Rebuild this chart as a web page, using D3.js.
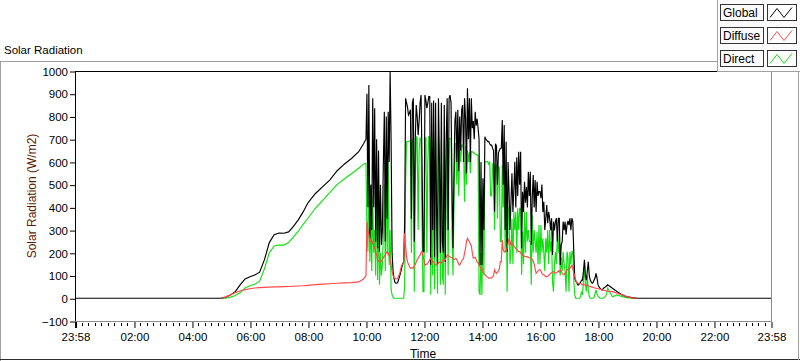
<!DOCTYPE html>
<html><head><meta charset="utf-8">
<script src="https://cdn.jsdelivr.net/npm/d3@7"></script>
<style>
html,body{margin:0;padding:0;background:#fff;}
svg{display:block;font-family:"Liberation Sans",Arial,sans-serif;}
</style></head>
<body><svg id="c" width="800" height="361"></svg>
<script>
// ---- data (time in minutes since midnight; -2 = 23:58 previous day) ----
const xTickMinutes = [-2,120,240,360,480,600,720,840,960,1080,1200,1320,1438];
const xTickLabels = ["23:58","02:00","04:00","06:00","08:00","10:00","12:00","14:00","16:00","18:00","20:00","22:00","23:58"];
const yTicks = [1000,900,800,700,600,500,400,300,200,100,0,-100];
const seriesNames = ["Global","Diffuse","Direct"];
const seriesColors = ["#000000","#ff4848","#12e012"];

const preTimes = [-2,300,310,320,330,340,350,360,370,380,390,400,410,420,430,440,450,460,470,480,495,510,525,540,555,570,585,595];
const globalPre  = [0,0,5,15,30,60,85,95,102,115,170,245,280,287,286,292,316,345,380,420,460,490,520,560,590,615,645,680];
const diffusePre = [null,0,5,15,25,33,38,42,45,47,48,49,50,50,51,52,53,54,55,57,60,62,64,66,68,69,72,85];
const directPre  = [null,0,0,5,12,25,45,55,62,75,130,200,230,234,234,245,270,295,325,352,395,430,465,500,525,548,572,590];

// 2-minute samples from 10:00 to 18:20
const denseStart = 600, denseStep = 2;
const globalDense = [
700,900,400,938,250,500,300,880,400,836,
250,700,220,650,205,500,235,300,600,821,
250,800,350,821,600,997,700,205,120,88,
70,66,66,72,85,100,115,135,150,161,
322,880,860,840,806,815,830,350,860,880,
249,700,850,800,718,780,860,894,600,205,
205,894,870,836,860,887,887,146,860,300,
870,180,860,400,150,880,600,200,860,250,
200,850,160,700,880,300,880,894,860,500,
220,542,780,821,600,830,560,800,650,830,
850,600,880,792,550,924,700,880,600,880,
748,780,700,821,760,790,748,700,146,600,
146,528,300,711,700,695,689,690,680,674,
674,660,650,381,680,670,500,640,650,660,
660,784,500,762,300,689,205,600,469,300,
425,550,380,480,601,400,620,450,645,500,
645,220,469,380,513,420,490,400,557,450,
557,235,440,542,400,520,380,513,450,470,
470,440,500,380,425,300,352,410,330,380,
352,300,352,190,337,300,337,352,250,352,
352,146,235,250,337,300,337,280,322,340,
322,352,300,352,337,200,88,75,70,59,
59,66,70,80,80,120,169,100,80,120,
161,100,80,72,66,70,80,90,110,90,
60,51,45,40,37,40,45,48,51,55,59];
const directDense = [
594,300,205,600,161,350,120,450,200,300,
100,616,80,400,60,200,100,150,280,500,
120,645,200,600,146,300,40,15,5,0,
0,0,0,0,0,0,0,0,0,0,
50,513,689,690,690,692,694,200,696,696,
29,500,711,705,300,650,705,705,308,29,
29,706,706,200,600,711,711,15,700,100,
711,40,705,300,20,710,500,60,700,100,
60,700,15,600,704,100,704,704,700,300,
100,400,682,680,500,676,450,674,600,674,
674,660,425,670,500,650,600,645,550,645,
645,640,640,635,632,630,630,29,15,200,
15,400,100,601,601,601,601,590,601,450,
450,590,585,300,586,586,350,580,575,250,
250,586,400,542,200,480,29,400,366,150,
200,350,150,381,300,381,200,396,300,396,
396,103,293,150,381,200,381,250,300,250,
250,59,366,200,300,250,200,293,150,322,
150,322,200,264,200,120,264,200,300,150,
300,205,250,73,29,150,205,150,278,200,
278,100,180,120,205,150,120,29,205,180,
29,205,150,205,205,80,15,0,0,0,
0,0,7,30,15,80,139,60,30,100,
30,10,0,0,0,0,5,20,37,20,
10,5,0,0,0,0,2,5,10,20,44];
const diffuseDense = [
100,337,300,280,249,260,240,249,230,220,
205,190,170,165,161,160,165,170,180,185,
190,200,205,190,200,170,146,120,100,90,
88,85,85,90,100,110,130,146,150,160,
286,230,183,160,150,140,132,135,132,135,
140,150,160,170,176,185,190,200,205,190,
170,146,148,150,155,161,170,176,168,160,
160,155,146,148,150,155,160,158,155,165,
170,165,170,180,190,190,185,182,180,178,
176,170,172,176,170,160,150,146,155,165,
170,176,200,220,250,264,255,250,240,230,
200,176,178,180,170,160,155,146,140,130,
130,117,110,105,100,95,92,88,88,90,
90,95,100,125,115,110,115,120,130,161,
161,257,212,205,205,210,220,240,264,250,
235,240,235,230,225,220,215,210,205,205,
200,195,190,188,185,183,183,182,180,180,
176,176,170,165,150,130,110,115,120,125,
125,120,110,105,103,100,95,95,97,100,
105,110,112,115,117,115,110,112,115,120,
115,125,120,110,103,105,110,115,125,128,
130,132,140,146,130,110,95,80,70,66,
66,66,64,62,60,59,59,59,58,57,
55,53,51,50,49,48,46,45,44,43,
42,41,40,39,37,36,35,34,33,32,31];

const postTimes = [1110,1120,1130,1140,1150,1160,1438];
const globalPost  = [44,29,15,7,3,0,0];
const diffusePost = [29,22,15,7,2,0,null];
const directPost  = [7,15,7,3,0,0,null];

// ---- build ----
const denseTimes = globalDense.map((_, i) => denseStart + i * denseStep);
const allTimes = preTimes.concat(denseTimes, postTimes);
function build(pre, dense, post){
  const vals = pre.concat(dense, post);
  return allTimes.map((t, i) => ({t, v: vals[i]}));
}
const series = [
  build(globalPre, globalDense, globalPost),
  build(diffusePre, diffuseDense, diffusePost),
  build(directPre, directDense, directPost)
];
const drawOrder = [2, 0, 1];

const svg = d3.select("#c");
const L = 75, R = 771, T = 71, B = 321;
const x = d3.scaleLinear().domain([-2, 1438]).range([L, R]);
const y = d3.scaleLinear().domain([-100, 1000]).range([B, T]);

// outer frame
svg.append("line").attr("x1",0).attr("x2",718).attr("y1",61.5).attr("y2",61.5).attr("stroke","#a0a0a0");
svg.append("line").attr("x1",0.5).attr("x2",0.5).attr("y1",61).attr("y2",361).attr("stroke","#a0a0a0");
svg.append("line").attr("x1",0).attr("x2",800).attr("y1",359.5).attr("y2",359.5).attr("stroke","#303030");
svg.append("line").attr("x1",798.5).attr("x2",798.5).attr("y1",72).attr("y2",360).attr("stroke","#a0a0a0");

// title
svg.append("text").attr("x",4).attr("y",54).attr("font-size",11.5).attr("fill","#000").text("Solar Radiation");

// plot area
svg.append("rect").attr("x",L).attr("y",T).attr("width",R-L).attr("height",B-T).attr("fill","#fff");

// data lines
const line = d3.line().defined(d => d.v != null).x(d => x(d.t)).y(d => y(d.v));
const g = svg.append("g");
drawOrder.forEach(i => {
  g.append("path").datum(series[i]).attr("d", line).attr("fill","none")
   .attr("stroke", seriesColors[i]).attr("stroke-width",1.15);
});

// plot frame
svg.append("line").attr("x1",L).attr("x2",R+1).attr("y1",T+0.5).attr("y2",T+0.5).attr("stroke","#000");
svg.append("line").attr("x1",L+0.5).attr("x2",L+0.5).attr("y1",T).attr("y2",B+1).attr("stroke","#000");
svg.append("line").attr("x1",L).attr("x2",R+1).attr("y1",B+0.5).attr("y2",B+0.5).attr("stroke","#8c8c8c");
svg.append("line").attr("x1",R+0.5).attr("x2",R+0.5).attr("y1",T).attr("y2",B+1).attr("stroke","#8c8c8c");

// y axis
const yAxis = d3.axisLeft(y).tickValues(yTicks).tickSize(5).tickPadding(2).tickFormat(d3.format("d"));
const ya = svg.append("g").attr("transform",`translate(${L},0.5)`).call(yAxis);
ya.select(".domain").remove();
ya.selectAll("line").attr("stroke","#000");
ya.selectAll("text").attr("font-size",11.5).attr("fill","#000").attr("font-family","Liberation Sans, Arial, sans-serif");

// x axis (major)
const xAxis = d3.axisBottom(x).tickValues(xTickMinutes).tickSize(6).tickPadding(5)
  .tickFormat((d, i) => xTickLabels[i]);
const xa = svg.append("g").attr("transform",`translate(0.5,${B+1})`).call(xAxis);
xa.select(".domain").remove();
xa.selectAll("line").attr("stroke","#000");
xa.selectAll("text").attr("font-size",11.5).attr("fill","#000").attr("font-family","Liberation Sans, Arial, sans-serif");
xa.select(".tick line").attr("stroke-width",2);
// minor ticks
const minors = [];
for (let k = 0; k < xTickMinutes.length - 1; k++) {
  const a = xTickMinutes[k], b = xTickMinutes[k+1];
  for (let j = 1; j <= 8; j++) minors.push(a + (b - a) * j / 9);
}
svg.append("g").selectAll("line").data(minors).join("line")
  .attr("x1", d => Math.round(x(d)) + 0.5).attr("x2", d => Math.round(x(d)) + 0.5)
  .attr("y1", B + 2).attr("y2", B + 5).attr("stroke","#000");

// axis titles
svg.append("text").attr("transform","translate(36,196) rotate(-90)").attr("text-anchor","middle")
  .attr("font-size",12).attr("fill","#5c1a00").text("Solar Radiation (W/m2)");
svg.append("text").attr("x",423).attr("y",358).attr("text-anchor","middle")
  .attr("font-size",12).attr("fill","#000").text("Time");

// legend
const lg = svg.append("g");
lg.append("rect").attr("x",717.5).attr("y",-1).attr("width",90).attr("height",72.5).attr("fill","#fbfbfb").attr("stroke","#a0a0a0");
seriesNames.forEach((name, i) => {
  const y0 = 4.5 + i * 23;
  lg.append("rect").attr("x",720.5).attr("y",y0).attr("width",43).attr("height",16).attr("fill","#fbfbfb").attr("stroke","#333");
  lg.append("text").attr("x",723).attr("y",y0 + 12.5).attr("font-size",12).attr("fill","#000").text(name);
  lg.append("rect").attr("x",767.5).attr("y",y0).attr("width",29).attr("height",16).attr("fill","#fff").attr("stroke","#333");
  const zz = [[770,y0+13],[777,y0+4],[784,y0+13],[792,y0+3]];
  lg.append("polyline").attr("points", zz.map(p => p.join(",")).join(" "))
    .attr("fill","none").attr("stroke",seriesColors[i]).attr("stroke-width",1);
});
</script></body></html>
